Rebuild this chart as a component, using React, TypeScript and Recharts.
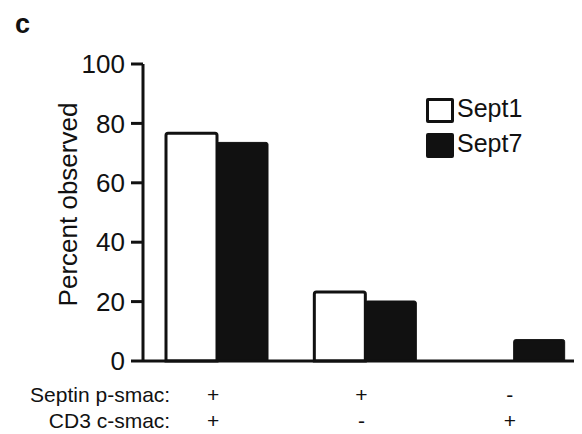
import { BarChart, Bar, XAxis, YAxis } from 'recharts'

const categories = ['A', 'B', 'C']
const pSmac = ['+', '+', '-']
const cSmac = ['+', '-', '+']
const sept1 = [76.7, 23.2, 0]
const sept7 = [73.6, 20.2, 7.2]
const yTicks = [0, 20, 40, 60, 80, 100]

const data = categories.map((c, i) => ({
   name: c,
   Sept1: sept1[i],
   Sept7: sept7[i],
}))

const FONT = '"Liberation Sans", Arial, sans-serif'

function XTick(props: any) {
   const { x, y, index } = props
   return (
      <g>
         {index === 0 && (
            <g>
               <text x={x - 47} y={y + 33} textAnchor="end" fontSize={21} fontFamily={FONT} fill="#111">
                  Septin p-smac:
               </text>
               <text x={x - 47} y={y + 59} textAnchor="end" fontSize={21} fontFamily={FONT} fill="#111">
                  CD3 c-smac:
               </text>
            </g>
         )}
         <text x={x - 4} y={y + 33} textAnchor="middle" fontSize={21} fontFamily={FONT} fill="#111">
            {pSmac[index]}
         </text>
         <text x={x - 4} y={y + 59} textAnchor="middle" fontSize={21} fontFamily={FONT} fill="#111">
            {cSmac[index]}
         </text>
      </g>
   )
}

function LegendBox() {
   const items = [
      { name: 'Sept1', fill: '#fff' },
      { name: 'Sept7', fill: '#111' },
   ]
   return (
      <div style={{ position: 'absolute', left: 418, top: 85, fontFamily: FONT }}>
         {items.map((it) => (
            <div key={it.name} style={{ display: 'flex', alignItems: 'center', height: 35 }}>
               <div
                  style={{
                     width: 22,
                     height: 19,
                     background: it.fill,
                     border: '3px solid #111',
                     borderRadius: 2,
                     boxSizing: 'content-box',
                  }}
               />
               <span style={{ fontSize: 25, marginLeft: 3, color: '#111', position: 'relative', top: -2 }}>
                  {it.name}
               </span>
            </div>
         ))}
      </div>
   )
}

export default function App() {
   return (
      <div style={{ width: 566, height: 426, overflow: 'hidden', position: 'relative', background: '#fff' }}>
         <div
            style={{
               position: 'absolute',
               left: 7,
               top: 1,
               fontFamily: FONT,
               fontWeight: 'bold',
               fontSize: 27,
               color: '#111',
            }}
         >
            c
         </div>
         <BarChart
            width={580}
            height={426}
            data={data}
            margin={{ top: 56, right: 0, bottom: 0, left: 0 }}
            barSize={51}
            barGap={0}
         >
            <XAxis
               dataKey="name"
               height={73}
               axisLine={{ stroke: '#111', strokeWidth: 3 }}
               tickLine={false}
               tick={<XTick />}
               interval={0}
            />
            <YAxis
               width={135}
               domain={[0, 100]}
               ticks={yTicks}
               interval={0}
               axisLine={{ stroke: '#111', strokeWidth: 3 }}
               tickLine={{ stroke: '#111', strokeWidth: 3 }}
               tickSize={12}
               tickMargin={6}
               tick={{ fontSize: 26, fontFamily: FONT, fill: '#111' }}
               label={{
                  value: 'Percent observed',
                  angle: -90,
                  position: 'insideLeft',
                  dx: 55,
                  dy: -8,
                  style: { fontSize: 26, fontFamily: FONT, fill: '#111', textAnchor: 'middle' },
               }}
            />
            <Bar dataKey="Sept1" fill="#fff" stroke="#111" strokeWidth={3} radius={[2, 2, 0, 0]} isAnimationActive={false} />
            <Bar dataKey="Sept7" fill="#111" stroke="#111" strokeWidth={1} radius={[2, 2, 0, 0]} isAnimationActive={false} />
         </BarChart>
         <LegendBox />
      </div>
   )
}
